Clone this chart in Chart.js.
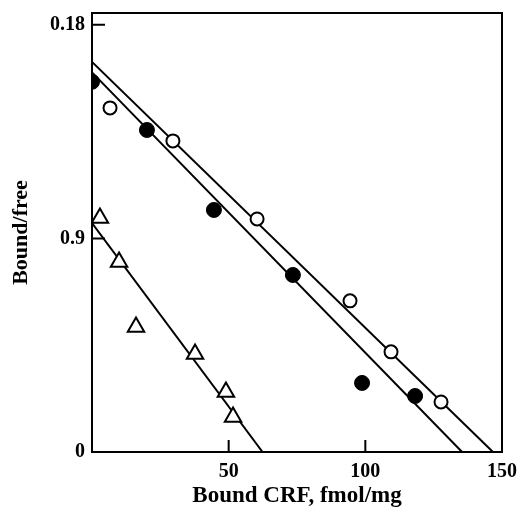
<!DOCTYPE html>
<html>
<head>
<meta charset="utf-8">
<script src="https://cdn.jsdelivr.net/npm/chart.js@4.4.0/dist/chart.umd.min.js"></script>
<style>
  html, body { margin: 0; padding: 0; background: #fff; }
  #wrap { width: 517px; height: 510px; }
</style>
</head>
<body>
<div id="wrap"><canvas id="c" width="517" height="510"></canvas></div>
<script>
// values
const filledX = [0, 20.1, 44.6, 73.5, 98.8, 118.2];
const filledY = [0.156, 0.1357, 0.102, 0.0746, 0.0291, 0.0236];
const openX = [6.6, 29.6, 60.4, 94.4, 109.4, 127.7];
const openY = [0.145, 0.1311, 0.0982, 0.0637, 0.0422, 0.0211];
const triX = [2.9, 9.9, 16.1, 37.7, 49.0, 51.6];
const triY = [0.0986, 0.0801, 0.0527, 0.0413, 0.0253, 0.0148];

// fitted lines: [x at left, y at left], [x intercept, 0]
const openLineX = [0, 146.7];
const openLineY = [0.1644, 0];
const filledLineX = [0, 135.4];
const filledLineY = [0.160, 0];
const triLineX = [0, 62.4];
const triLineY = [0.0965, 0];

const xTicks = [50, 100, 150];
const yTicks = [0, 0.09, 0.18];
const yTickLabels = ["0", "0.9", "0.18"];

const pts = (xs, ys) => xs.map((x, i) => ({ x: x, y: ys[i] }));

const serif = "'Liberation Serif', 'DejaVu Serif', serif";

// box round the plot and the small inward ticks
const framePlugin = {
  id: "frame",
  afterDraw(chart) {
    const { ctx, chartArea: a, scales } = chart;
    ctx.save();
    ctx.strokeStyle = "#000";
    ctx.lineWidth = 2;
    ctx.strokeRect(a.left, a.top, a.right - a.left, a.bottom - a.top);
    ctx.beginPath();
    yTicks.forEach(v => {
      if (v === 0) return;
      const y = scales.y.getPixelForValue(v);
      ctx.moveTo(a.left, y);
      ctx.lineTo(a.left + 13, y);
    });
    xTicks.forEach(v => {
      if (v === 150) return;
      const x = scales.x.getPixelForValue(v);
      ctx.moveTo(x, a.bottom);
      ctx.lineTo(x, a.bottom - 12);
    });
    ctx.stroke();
    ctx.restore();
  }
};

const lineStyle = {
  showLine: true,
  borderColor: "#000",
  borderWidth: 2,
  pointRadius: 0,
  fill: false,
  order: 2
};

new Chart(document.getElementById("c"), {
  type: "scatter",
  data: {
    datasets: [
      Object.assign({ data: pts(openLineX, openLineY) }, lineStyle),
      Object.assign({ data: pts(filledLineX, filledLineY) }, lineStyle),
      Object.assign({ data: pts(triLineX, triLineY) }, lineStyle),
      {
        data: pts(filledX, filledY),
        pointStyle: "circle",
        pointRadius: 7.5,
        backgroundColor: "#000",
        borderColor: "#000",
        borderWidth: 1,
        order: 1
      },
      {
        data: pts(openX, openY),
        pointStyle: "circle",
        pointRadius: 6.5,
        backgroundColor: "#fff",
        borderColor: "#000",
        borderWidth: 2,
        order: 1
      },
      {
        data: pts(triX, triY),
        pointStyle: "triangle",
        pointRadius: 9.5,
        backgroundColor: "#fff",
        borderColor: "#000",
        borderWidth: 2,
        order: 1
      }
    ]
  },
  options: {
    responsive: false,
    animation: false,
    layout: { padding: { top: 13, right: 15, left: 0, bottom: 0 } },
    plugins: {
      legend: { display: false },
      tooltip: { enabled: false }
    },
    scales: {
      x: {
        type: "linear",
        min: 0,
        max: 150,
        afterBuildTicks: s => { s.ticks = xTicks.map(v => ({ value: v })); },
        afterFit: s => {
          s.height = 58;
          s.paddingLeft = 0;
          s.paddingRight = 0;
        },
        grid: { display: false, drawTicks: false },
        border: { display: true, color: "#000", width: 2 },
        ticks: {
          padding: 8,
          color: "#000",
          font: { family: serif, size: 20, weight: "bold" }
        },
        title: {
          display: true,
          text: "Bound CRF, fmol/mg",
          color: "#000",
          padding: { top: 0, bottom: 0 },
          font: { family: serif, size: 23, weight: "bold" }
        }
      },
      y: {
        type: "linear",
        min: 0,
        max: 0.185,
        afterBuildTicks: s => { s.ticks = yTicks.map(v => ({ value: v })); },
        afterFit: s => {
          s.width = 92;
          s.paddingTop = 0;
          s.paddingBottom = 0;
        },
        grid: { display: false, drawTicks: false },
        border: { display: true, color: "#000", width: 2 },
        ticks: {
          padding: 7,
          color: "#000",
          font: { family: serif, size: 20, weight: "bold" },
          callback: (v) => yTickLabels[yTicks.indexOf(v)]
        },
        title: {
          display: true,
          text: "Bound/free",
          color: "#000",
          padding: { top: 8, bottom: 0 },
          font: { family: serif, size: 22, weight: "bold" }
        }
      }
    }
  },
  plugins: [framePlugin]
});
</script>
</body>
</html>
